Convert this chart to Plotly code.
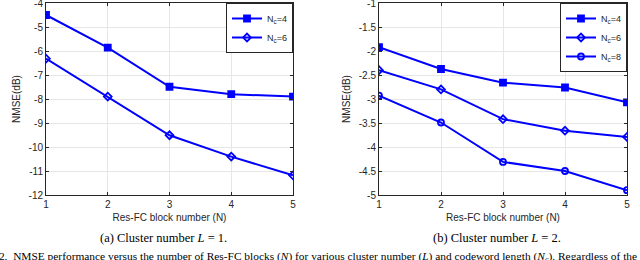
import plotly.graph_objects as go

N = [1, 2, 3, 4, 5]
left_nc4 = [-4.5, -5.86, -7.49, -7.8, -7.9]
left_nc6 = [-6.32, -7.9, -9.51, -10.4, -11.18]
right_nc4 = [-1.92, -2.375, -2.66, -2.76, -3.07]
right_nc6 = [-2.40, -2.80, -3.42, -3.66, -3.79]
right_nc8 = [-2.93, -3.49, -4.31, -4.5, -4.9]
left_yticks = [-4, -5, -6, -7, -8, -9, -10, -11, -12]
right_yticks = [-1, -1.5, -2, -2.5, -3, -3.5, -4, -4.5, -5]

W, H = 640, 260
BLUE = "#0000ff"
SANS = "Liberation Sans, Arial"
TICKFONT = dict(family=SANS, size=10, color="#262626")

def px(x):
    return x / W

def py(y):
    return (H - y) / H

fig = go.Figure()

def add(x, y, name, sym, xa, ya, leg):
    fig.add_trace(go.Scatter(
        x=x, y=y, name=name, mode="lines+markers",
        line=dict(color=BLUE, width=2),
        marker=dict(symbol=sym, size=6, color=BLUE, line=dict(color=BLUE, width=1.8)),
        xaxis=xa, yaxis=ya, legend=leg,
    ))

add(N, left_nc4, "N<sub>c</sub>=4", "square", "x", "y", "legend")
add(N, left_nc6, "N<sub>c</sub>=6", "diamond-open", "x", "y", "legend")
add(N, right_nc4, "N<sub>c</sub>=4", "square", "x2", "y2", "legend2")
add(N, right_nc6, "N<sub>c</sub>=6", "diamond-open", "x2", "y2", "legend2")
add(N, right_nc8, "N<sub>c</sub>=8", "circle-open", "x2", "y2", "legend2")

axis_common = dict(
    showline=True, linecolor="#262626", linewidth=1, mirror="allticks",
    ticks="inside", ticklen=3, tickcolor="#262626",
    showgrid=True, gridcolor="#e6e6e6", gridwidth=1,
    zeroline=False, tickfont=TICKFONT, automargin=False,
    ticklabeloverflow="allow",
)
TITLEFONT = dict(family=SANS, size=10, color="#262626")

ydom = [py(195), py(3)]
fig.update_layout(
    width=W, height=H,
    margin=dict(l=0, r=0, t=0, b=0, autoexpand=False),
    paper_bgcolor="white", plot_bgcolor="white",
    xaxis=dict(domain=[px(46), px(293)], range=[1, 5], tickvals=N,
               title=dict(text="Res-FC block number (N)", font=TITLEFONT, standoff=4),
               anchor="y", **axis_common),
    yaxis=dict(domain=ydom, range=[-12, -4], tickvals=left_yticks,
               ticktext=[str(v) for v in left_yticks],
               title=dict(text="NMSE(dB)", font=TITLEFONT, standoff=6),
               anchor="x", **axis_common),
    xaxis2=dict(domain=[px(379), px(627)], range=[1, 5], tickvals=N,
                title=dict(text="Res-FC block number (N)", font=TITLEFONT, standoff=4),
                anchor="y2", **axis_common),
    yaxis2=dict(domain=ydom, range=[-5, -1], tickvals=right_yticks,
                ticktext=[("%g" % v) for v in right_yticks],
                title=dict(text="NMSE(dB)", font=TITLEFONT, standoff=6),
                anchor="x2", **axis_common),
    legend=dict(x=px(293), y=py(3), xanchor="right", yanchor="top",
                bgcolor="white", bordercolor="#262626", borderwidth=1,
                font=dict(family=SANS, size=9, color="#262626"),
                tracegroupgap=0, itemwidth=30),
    legend2=dict(x=px(627), y=py(3), xanchor="right", yanchor="top",
                 bgcolor="white", bordercolor="#262626", borderwidth=1,
                 font=dict(family=SANS, size=9, color="#262626"),
                 tracegroupgap=0, itemwidth=30),
    showlegend=True,
)

serif = dict(family="Liberation Serif, Times New Roman", size=11.4, color="black")
subserif = dict(family="Liberation Serif, Times New Roman", size=12.5, color="black")
fig.add_annotation(text="(a) Cluster number <i>L</i> = 1.", x=px(163), y=py(238), xref="paper", yref="paper",
                   showarrow=False, font=subserif, xanchor="center", yanchor="middle")
fig.add_annotation(text="(b) Cluster number <i>L</i> = 2.", x=px(497), y=py(238), xref="paper", yref="paper",
                   showarrow=False, font=subserif, xanchor="center", yanchor="middle")
fig.add_annotation(text="Fig. 2.  NMSE performance versus the number of Res-FC blocks (<i>N</i>) for various cluster number (<i>L</i>) and codeword length (<i>N<sub>c</sub></i>). Regardless of the",
                   x=px(-24), y=py(257), xref="paper", yref="paper",
                   showarrow=False, font=serif, xanchor="left", yanchor="middle")

fig.write_html("out.html", config={"displayModeBar": False},
               post_script="document.body.style.margin='0';document.body.style.padding='0';")
